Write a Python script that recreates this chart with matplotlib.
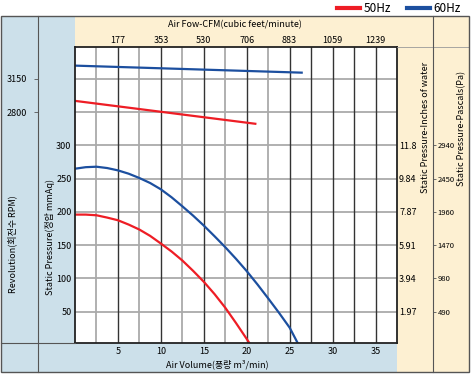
import matplotlib
matplotlib.use('Agg')
import matplotlib.pyplot as plt
from matplotlib.patches import Rectangle
from matplotlib.lines import Line2D
import numpy as np

plt.rcParams['font.family'] = ['Noto Sans CJK KR', 'DejaVu Sans']

W, H = 471, 375

# air volume (m3/min) vs static pressure (mmAq)
q_60 = [0, 1.25, 2.5, 3.75, 5, 6.25, 7.5, 8.75, 10, 11.25, 12.5, 13.75, 15,
        16.25, 17.5, 18.75, 20, 21.25, 22.5, 23.75, 25, 26.05]
p_60 = [265, 267.3, 268, 266, 262.5, 257.5, 251, 243.5, 234, 222, 208.5, 194.5, 179.5,
        163.5, 147, 129.5, 111, 91, 70, 48.5, 26, 0]
q_50 = [0, 1.25, 2.5, 3.75, 5, 6.25, 7.5, 8.75, 10, 11.25, 12.5, 13.75, 15,
        16.25, 17.5, 18.75, 20, 20.45]
p_50 = [196, 196, 195, 191.5, 187.5, 181, 173.5, 164, 152.5, 140.5, 127, 111.5, 95,
        76.5, 56, 33, 9, 0]

# revolution lines (RPM)
q_rpm_60 = [0, 26.4]
rpm_60 = [3290, 3216]
q_rpm_50 = [0, 21]
rpm_50 = [2919, 2678]

x_ticks = [5, 10, 15, 20, 25, 30, 35]
cfm_labels = ['177', '353', '530', '706', '883', '1059', '1239']
p_ticks = [50, 100, 150, 200, 250, 300]
inch_labels = ['1.97', '3.94', '5.91', '7.87', '9.84', '11.8']
pa_labels = ['490', '980', '1470', '1960', '2450', '2940']
rpm_ticks = [2800, 3150]

red = '#ee1d25'
blue = '#1c4f9f'
light_blue = '#cce0ea'
beige = '#fdf0d2'
frame = '#555555'


def fx(x):
    return x / W


def fy(y):
    return 1 - y / H


def rpm_to_p(r):
    return 350 + (np.asarray(r, dtype=float) - 2800) / 7.0


def p_to_rpm(p):
    return 2800 + (np.asarray(p, dtype=float) - 350) * 7.0


fig = plt.figure(figsize=(W / 100, H / 100), dpi=100)


def box(x0, y0, x1, y1, color):
    fig.add_artist(Rectangle((fx(x0), fy(y1)), fx(x1) - fx(x0), fy(y0) - fy(y1),
                             transform=fig.transFigure, facecolor=color,
                             edgecolor='none', zorder=0))


def seg(x0, y0, x1, y1, color=frame, lw=0.8):
    fig.add_artist(Line2D([fx(x0), fx(x1)], [fy(y0), fy(y1)], transform=fig.transFigure,
                          color=color, lw=lw, zorder=1))


# background panels
box(1, 16, 75, 372, light_blue)
box(75, 343, 397, 372, light_blue)
box(75, 16, 469, 47, beige)
box(397, 47, 469, 372, beige)
seg(38, 16, 38, 372)
seg(1, 343, 75, 343)
seg(397, 47, 469, 47, color='#999999', lw=0.6)
seg(433, 16, 433, 372)
fig.add_artist(Rectangle((fx(1), fy(372)), fx(469) - fx(1), fy(16) - fy(372),
                         transform=fig.transFigure, facecolor='none',
                         edgecolor=frame, lw=1.0, zorder=2))

ax = fig.add_axes([fx(75), fy(343.3), fx(397) - fx(75), fy(47) - fy(343.3)])
ax.set_facecolor('white')
ax.set_xlim(0, 37.5)
ax.set_ylim(2.5, 448)

# grid
for y in range(50, 450, 50):
    ax.axhline(y, color='#aaaaaa', lw=1.3, zorder=1)
for i in range(1, 15):
    x = i * 2.5
    if i % 2 == 0 or x > 25:
        ax.axvline(x, color='#333333', lw=1.0, zorder=1)
    else:
        ax.axvline(x, color='#aaaaaa', lw=1.3, zorder=1)

ax.plot(q_50, p_50, color=red, lw=1.6, zorder=3)
ax.plot(q_60, p_60, color=blue, lw=1.6, zorder=3)
ax.plot(q_rpm_50, rpm_to_p(rpm_50), color=red, lw=1.6, zorder=3)
ax.plot(q_rpm_60, rpm_to_p(rpm_60), color=blue, lw=1.6, zorder=3)

for s in ax.spines.values():
    s.set_color('#222222')
    s.set_linewidth(1.3)
    s.set_zorder(4)

fs = 6.5
ax.set_xticks(x_ticks)
ax.set_xticklabels([str(v) for v in x_ticks], fontsize=fs)
ax.set_yticks(p_ticks)
ax.set_yticklabels([str(v) for v in p_ticks], fontsize=fs)
ax.tick_params(length=0, pad=2.5)

top = ax.secondary_xaxis('top')
top.set_xticks(x_ticks)
top.set_xticklabels(cfm_labels, fontsize=fs)
top.tick_params(length=0, pad=1.5)
top.spines['top'].set_visible(False)

right = ax.secondary_yaxis('right')
right.set_yticks(p_ticks)
right.set_yticklabels(inch_labels, fontsize=fs)
right.tick_params(length=0, pad=1.5)
right.spines['right'].set_visible(False)

pa = ax.secondary_yaxis((433 - 75) / (397 - 75))
pa.set_yticks(p_ticks)
pa.set_yticklabels(pa_labels, fontsize=5.5)
pa.tick_params(length=2.5, width=0.6, color=frame, pad=0.8, direction='out')
pa.spines['right'].set_visible(False)

rp = ax.secondary_yaxis((38 - 75) / (397 - 75), functions=(p_to_rpm, rpm_to_p))
rp.set_yticks(rpm_ticks)
rp.set_yticklabels([str(v) for v in rpm_ticks], fontsize=fs)
rp.tick_params(length=3, width=0.6, color=frame, pad=5, direction='out')
rp.spines['left'].set_visible(False)

# axis titles
fig.text(fx(235), fy(25), 'Air Fow-CFM(cubic feet/minute)', fontsize=fs,
         ha='center', va='center')
fig.text(fx(217), fy(364), 'Air Volume(풍량 m³/min)', fontsize=fs,
         ha='center', va='center')
fig.text(fx(12), fy(244), 'Revolution(회전수 RPM)', fontsize=fs, rotation=90,
         ha='center', va='center')
fig.text(fx(50), fy(237), 'Static Pressure(정압 mmAq)', fontsize=fs, rotation=90,
         ha='center', va='center')
fig.text(fx(425), fy(127), 'Static Pressure-Inches of water', fontsize=fs,
         rotation=90, ha='center', va='center')
fig.text(fx(462), fy(128), 'Static Pressure-Pascals(Pa)', fontsize=fs,
         rotation=90, ha='center', va='center')

# legend
handles = [Line2D([], [], color=red, lw=3), Line2D([], [], color=blue, lw=3)]
fig.legend(handles, ['50Hz', '60Hz'], ncol=2, loc='upper right',
           bbox_to_anchor=(fx(462), fy(0.5)), frameon=False, fontsize=8.5,
           handlelength=1.9, handletextpad=0.3, columnspacing=1.4,
           borderaxespad=0, borderpad=0.1)

fig.savefig('out.png', dpi=100)
